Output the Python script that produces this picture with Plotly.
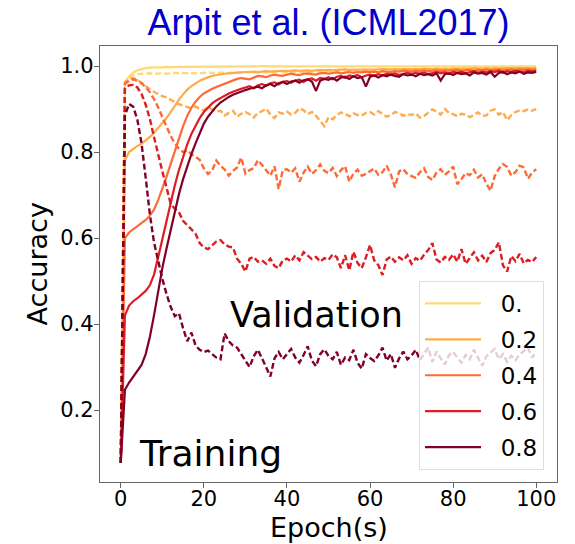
import plotly.graph_objects as go

epochs = list(range(101))
noise_labels = ["0.", "0.2", "0.4", "0.6", "0.8"]
colors = ["#fed976", "#feab49", "#fd6a35", "#dd1c23", "#800026"]

train_00 = [0.077, 0.962, 0.976, 0.985, 0.990, 0.993, 0.995, 0.996, 0.997, 0.997,
            0.997, 0.998, 0.997, 0.998, 0.998, 0.998, 0.998, 0.999, 0.998, 0.999,
            0.999, 0.998, 0.999, 0.999, 0.999, 0.999, 0.999, 0.999, 0.999, 0.999,
            0.999, 0.999, 0.999, 0.999, 1.000, 0.999, 0.999, 0.999, 0.999, 1.000,
            0.999, 0.999, 1.000, 0.999, 0.999, 0.999, 1.000, 0.999, 0.999, 1.000,
            0.999, 0.999, 0.999, 1.000, 0.999, 0.999, 1.000, 0.999, 0.999, 1.000,
            0.999, 0.999, 1.000, 0.999, 0.999, 1.000, 0.999, 0.999, 1.000, 0.999,
            0.999, 1.000, 0.999, 0.999, 1.000, 0.999, 0.999, 1.000, 0.999, 0.999,
            1.000, 0.999, 0.999, 1.000, 0.999, 0.999, 1.000, 0.999, 0.999, 1.000,
            0.999, 0.999, 1.000, 0.999, 0.999, 1.000, 0.999, 0.999, 1.000, 0.999,
            0.999]
train_02 = [0.077, 0.780, 0.800, 0.808, 0.814, 0.819, 0.826, 0.835, 0.845, 0.856,
            0.867, 0.879, 0.893, 0.908, 0.922, 0.934, 0.945, 0.953, 0.960, 0.966,
            0.970, 0.974, 0.977, 0.979, 0.981, 0.982, 0.983, 0.984, 0.985, 0.985,
            0.986, 0.986, 0.987, 0.986, 0.987, 0.988, 0.987, 0.988, 0.988, 0.989,
            0.988, 0.989, 0.990, 0.989, 0.990, 0.990, 0.989, 0.990, 0.991, 0.990,
            0.991, 0.990, 0.991, 0.991, 0.992, 0.991, 0.991, 0.992, 0.991, 0.992,
            0.992, 0.991, 0.992, 0.993, 0.992, 0.992, 0.993, 0.992, 0.993, 0.993,
            0.992, 0.993, 0.993, 0.994, 0.993, 0.993, 0.994, 0.993, 0.994, 0.993,
            0.994, 0.994, 0.993, 0.994, 0.994, 0.995, 0.994, 0.994, 0.995, 0.994,
            0.995, 0.994, 0.995, 0.995, 0.994, 0.995, 0.995, 0.994, 0.995, 0.995,
            0.995]
train_04 = [0.077, 0.600, 0.613, 0.620, 0.627, 0.634, 0.642, 0.652, 0.666, 0.688,
            0.714, 0.742, 0.772, 0.803, 0.833, 0.860, 0.884, 0.903, 0.917, 0.928,
            0.936, 0.942, 0.947, 0.951, 0.955, 0.959, 0.963, 0.967, 0.970, 0.972,
            0.971, 0.969, 0.973, 0.977, 0.976, 0.974, 0.978, 0.980, 0.978, 0.977,
            0.980, 0.982, 0.980, 0.979, 0.982, 0.983, 0.981, 0.980, 0.983, 0.984,
            0.982, 0.984, 0.985, 0.983, 0.985, 0.986, 0.984, 0.986, 0.985, 0.987,
            0.986, 0.987, 0.985, 0.988, 0.987, 0.986, 0.988, 0.987, 0.989, 0.988,
            0.987, 0.989, 0.988, 0.990, 0.988, 0.989, 0.990, 0.988, 0.990, 0.989,
            0.990, 0.991, 0.989, 0.990, 0.991, 0.989, 0.991, 0.990, 0.992, 0.990,
            0.991, 0.992, 0.990, 0.991, 0.992, 0.990, 0.992, 0.991, 0.992, 0.991,
            0.992]
train_06 = [0.077, 0.420, 0.443, 0.453, 0.460, 0.468, 0.477, 0.490, 0.515, 0.555,
            0.598, 0.640, 0.682, 0.722, 0.758, 0.790, 0.818, 0.842, 0.862, 0.879,
            0.893, 0.904, 0.913, 0.920, 0.926, 0.931, 0.936, 0.940, 0.944, 0.947,
            0.950, 0.953, 0.948, 0.955, 0.958, 0.954, 0.960, 0.962, 0.957, 0.963,
            0.965, 0.961, 0.966, 0.968, 0.963, 0.969, 0.971, 0.966, 0.972, 0.970,
            0.974, 0.969, 0.975, 0.977, 0.972, 0.978, 0.976, 0.979, 0.974, 0.978,
            0.980, 0.977, 0.981, 0.978, 0.982, 0.980, 0.983, 0.979, 0.982, 0.984,
            0.981, 0.984, 0.982, 0.985, 0.981, 0.984, 0.986, 0.983, 0.985, 0.982,
            0.986, 0.984, 0.987, 0.983, 0.986, 0.988, 0.984, 0.987, 0.985, 0.988,
            0.986, 0.989, 0.984, 0.988, 0.986, 0.989, 0.987, 0.985, 0.989, 0.987,
            0.989]
train_08 = [0.077, 0.247, 0.264, 0.277, 0.290, 0.305, 0.330, 0.370, 0.420, 0.475,
            0.530, 0.575, 0.620, 0.662, 0.702, 0.737, 0.768, 0.795, 0.820, 0.845,
            0.866, 0.882, 0.895, 0.906, 0.915, 0.922, 0.928, 0.933, 0.937, 0.941,
            0.944, 0.947, 0.950, 0.952, 0.948, 0.955, 0.958, 0.953, 0.960, 0.963,
            0.958, 0.964, 0.966, 0.961, 0.967, 0.969, 0.964, 0.942, 0.966, 0.970,
            0.968, 0.972, 0.966, 0.973, 0.975, 0.970, 0.976, 0.972, 0.974, 0.952,
            0.975, 0.978, 0.973, 0.979, 0.976, 0.980, 0.977, 0.975, 0.981, 0.978,
            0.980, 0.976, 0.982, 0.979, 0.981, 0.978, 0.983, 0.966, 0.981, 0.983,
            0.979, 0.984, 0.981, 0.983, 0.978, 0.985, 0.982, 0.984, 0.980, 0.986,
            0.975, 0.984, 0.986, 0.981, 0.985, 0.983, 0.987, 0.982, 0.985, 0.984,
            0.986]

val_00 = [0.077, 0.962, 0.974, 0.979, 0.981, 0.982, 0.982, 0.983, 0.982, 0.983,
          0.983, 0.982, 0.983, 0.984, 0.983, 0.984, 0.983, 0.984, 0.984, 0.983,
          0.984, 0.985, 0.984, 0.984, 0.985, 0.984, 0.985, 0.985, 0.984, 0.985,
          0.985, 0.986, 0.985, 0.985, 0.986, 0.985, 0.986, 0.986, 0.985, 0.986,
          0.986, 0.985, 0.986, 0.987, 0.986, 0.986, 0.987, 0.986, 0.987, 0.987,
          0.986, 0.987, 0.987, 0.986, 0.987, 0.988, 0.987, 0.987, 0.988, 0.987,
          0.987, 0.988, 0.987, 0.988, 0.988, 0.987, 0.988, 0.988, 0.987, 0.988,
          0.988, 0.989, 0.988, 0.988, 0.989, 0.988, 0.988, 0.989, 0.988, 0.989,
          0.989, 0.988, 0.989, 0.989, 0.988, 0.989, 0.989, 0.990, 0.989, 0.989,
          0.990, 0.989, 0.989, 0.990, 0.989, 0.990, 0.990, 0.989, 0.990, 0.990,
          0.990]
val_02 = [0.077, 0.962, 0.970, 0.972, 0.968, 0.960, 0.952, 0.946, 0.940, 0.935,
          0.930, 0.927, 0.922, 0.916, 0.911, 0.908, 0.905, 0.902, 0.906, 0.900,
          0.897, 0.905, 0.899, 0.894, 0.896, 0.885, 0.891, 0.896, 0.882, 0.889,
          0.893, 0.888, 0.880, 0.891, 0.895, 0.901, 0.887, 0.879, 0.892, 0.889,
          0.894, 0.887, 0.891, 0.902, 0.897, 0.888, 0.893, 0.884, 0.872, 0.860,
          0.881, 0.876, 0.886, 0.892, 0.889, 0.883, 0.890, 0.886, 0.884, 0.891,
          0.893, 0.887, 0.895, 0.889, 0.882, 0.886, 0.893, 0.891, 0.884, 0.888,
          0.886, 0.890, 0.880, 0.884, 0.891, 0.899, 0.894, 0.887, 0.900, 0.891,
          0.888, 0.883, 0.889, 0.887, 0.881, 0.886, 0.892, 0.884, 0.885, 0.896,
          0.899, 0.887, 0.893, 0.874, 0.886, 0.893, 0.897, 0.895, 0.899, 0.896,
          0.900]
val_04 = [0.077, 0.958, 0.966, 0.969, 0.966, 0.960, 0.951, 0.939, 0.923, 0.904,
          0.881, 0.858, 0.838, 0.820, 0.808, 0.800, 0.804, 0.795, 0.789, 0.782,
          0.762, 0.749, 0.757, 0.780, 0.768, 0.759, 0.745, 0.756, 0.764, 0.787,
          0.750, 0.758, 0.762, 0.781, 0.770, 0.758, 0.745, 0.767, 0.714, 0.758,
          0.760, 0.752, 0.762, 0.731, 0.752, 0.766, 0.749, 0.758, 0.771, 0.756,
          0.751, 0.763, 0.744, 0.758, 0.767, 0.731, 0.750, 0.759, 0.745, 0.749,
          0.756, 0.762, 0.747, 0.753, 0.768, 0.748, 0.718, 0.755, 0.760, 0.749,
          0.744, 0.740, 0.753, 0.762, 0.742, 0.735, 0.752, 0.760, 0.747, 0.755,
          0.766, 0.725, 0.737, 0.751, 0.746, 0.759, 0.741, 0.748, 0.726, 0.710,
          0.744, 0.761, 0.772, 0.765, 0.745, 0.753, 0.768, 0.764, 0.738, 0.752,
          0.760]
val_06 = [0.077, 0.948, 0.955, 0.956, 0.950, 0.935, 0.910, 0.877, 0.835, 0.792,
          0.755, 0.718, 0.680, 0.668, 0.660, 0.640, 0.630, 0.622, 0.610, 0.588,
          0.578, 0.574, 0.583, 0.592, 0.595, 0.585, 0.580, 0.578, 0.552, 0.540,
          0.522, 0.552, 0.556, 0.545, 0.548, 0.540, 0.552, 0.535, 0.530, 0.548,
          0.552, 0.545, 0.560, 0.548, 0.567, 0.558, 0.551, 0.556, 0.545, 0.553,
          0.549, 0.562, 0.555, 0.530, 0.560, 0.525, 0.568, 0.542, 0.530, 0.555,
          0.584, 0.548, 0.537, 0.514, 0.550, 0.557, 0.545, 0.555, 0.548, 0.560,
          0.540, 0.553, 0.547, 0.561, 0.572, 0.588, 0.550, 0.543, 0.556, 0.549,
          0.562, 0.545, 0.574, 0.540, 0.553, 0.567, 0.548, 0.559, 0.544, 0.565,
          0.572, 0.590, 0.536, 0.522, 0.558, 0.546, 0.563, 0.541, 0.549, 0.544,
          0.556]
val_08 = [0.077, 0.885, 0.912, 0.905, 0.875, 0.820, 0.740, 0.655, 0.590, 0.545,
          0.505, 0.470, 0.440, 0.418, 0.425, 0.390, 0.360, 0.380, 0.350, 0.340,
          0.335, 0.338, 0.330, 0.322, 0.318, 0.378, 0.360, 0.350, 0.345, 0.330,
          0.318, 0.300, 0.325, 0.340, 0.320, 0.300, 0.278, 0.320, 0.335, 0.318,
          0.330, 0.342, 0.322, 0.310, 0.328, 0.348, 0.315, 0.302, 0.330, 0.341,
          0.326, 0.318, 0.335, 0.305, 0.322, 0.316, 0.340, 0.310, 0.296, 0.330,
          0.321, 0.314, 0.327, 0.345, 0.315, 0.330, 0.298, 0.320, 0.336, 0.318,
          0.327, 0.340, 0.316, 0.330, 0.345, 0.312, 0.336, 0.320, 0.306, 0.328,
          0.335, 0.322, 0.310, 0.328, 0.318, 0.340, 0.320, 0.303, 0.325, 0.334,
          0.342, 0.318, 0.330, 0.312, 0.326, 0.316, 0.329, 0.337, 0.345, 0.322,
          0.335]

x_ticks = [0, 20, 40, 60, 80, 100]
y_ticks = [0.2, 0.4, 0.6, 0.8, 1.0]
y_tick_labels = ["0.2", "0.4", "0.6", "0.8", "1.0"]

trains = [train_00, train_02, train_04, train_06, train_08]
vals = [val_00, val_02, val_04, val_06, val_08]

fig = go.Figure()
for i in range(5):
    fig.add_trace(go.Scatter(
        x=epochs, y=trains[i], mode="lines", name="\u00a0\u00a0" + noise_labels[i],
        line=dict(color=colors[i], width=2.2), legendgroup=noise_labels[i],
        showlegend=True))
    fig.add_trace(go.Scatter(
        x=epochs, y=vals[i], mode="lines", name=noise_labels[i],
        line=dict(color=colors[i], width=2.4, dash="6px,3px"),
        legendgroup=noise_labels[i], showlegend=False))

font_main = "DejaVu Sans, sans-serif"
fig.add_annotation(x=25.8, y=0.42, xref="x", yref="y", text="Validation",
                   showarrow=False, xanchor="left", yanchor="middle",
                   font=dict(family=font_main, size=35, color="black"))
fig.add_annotation(x=4.0, y=0.10, xref="x", yref="y", text="Training",
                   showarrow=False, xanchor="left", yanchor="middle",
                   font=dict(family=font_main, size=36, color="black"))

# axis titles as paper-anchored annotations
fig.add_annotation(x=0.5, y=-0.1035, xref="paper", yref="paper", text="Epoch(s)",
                   showarrow=False, xanchor="center", yanchor="middle",
                   font=dict(family=font_main, size=27, color="black"))
fig.add_annotation(x=-0.137, y=0.5, xref="paper", yref="paper", text="Accuracy",
                   showarrow=False, xanchor="center", yanchor="middle", textangle=-90,
                   font=dict(family=font_main, size=27, color="black"))

axis_common = dict(showline=True, linecolor="#666666", linewidth=1.3, mirror=True,
                   ticks="outside", ticklen=5, tickcolor="#666666", tickwidth=1.2,
                   showgrid=False, zeroline=False, automargin=False,
                   tickfont=dict(family=font_main, size=21, color="black"))

fig.update_layout(
    width=575, height=544,
    margin=dict(l=100, r=18, t=46, b=62, autoexpand=False),
    paper_bgcolor="white", plot_bgcolor="white",
    title=dict(text="Arpit et al. (ICML2017)", x=0.5, xref="paper", xanchor="center",
               y=0.958, yref="container", yanchor="middle",
               font=dict(family="Liberation Sans, Arial, sans-serif", size=36, color="#0000CD")),
    xaxis=dict(range=[-5, 105], tickvals=x_ticks, ticklabelstandoff=-7, **axis_common),
    yaxis=dict(range=[0.0326, 1.0465], tickvals=y_ticks, ticktext=y_tick_labels,
               ticklabelstandoff=-4, **axis_common),
    legend=dict(x=0.9716, y=0.0275, xanchor="right", yanchor="bottom",
                xref="paper", yref="paper",
                bgcolor="rgba(255,255,255,0.8)", bordercolor="#dddddd", borderwidth=1,
                font=dict(family=font_main, size=23, color="black"),
                tracegroupgap=3, traceorder="grouped", itemwidth=56),
    showlegend=True,
)

fig.write_html("out.html", config={"displayModeBar": False},
               post_script="document.body.style.margin='0px';document.body.style.overflow='hidden';")
